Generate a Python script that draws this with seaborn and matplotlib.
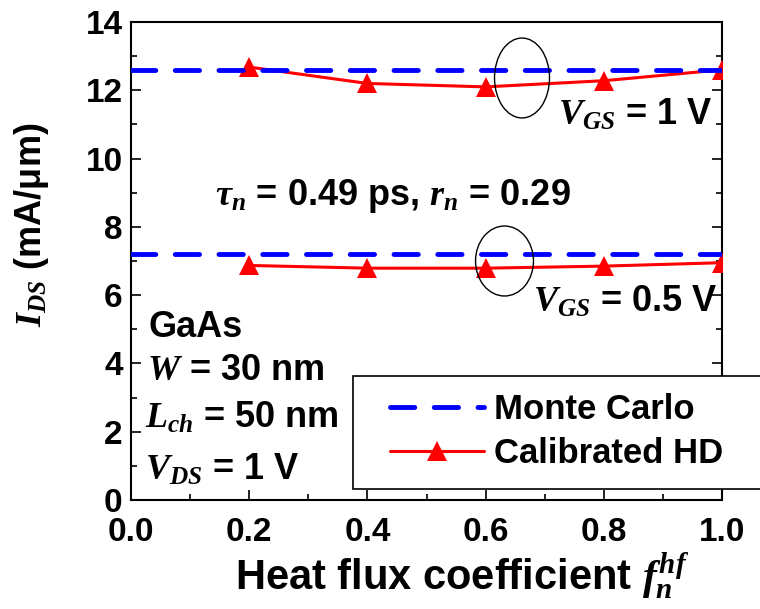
import matplotlib
matplotlib.use("Agg")
import matplotlib.pyplot as plt
from matplotlib.patches import Ellipse, Rectangle
from matplotlib.lines import Line2D
import seaborn as sns
import pandas as pd

# Heat flux coefficient sweep
hf_coeff = [0.2, 0.4, 0.6, 0.8, 1.0]
# Calibrated hydrodynamic drain current (mA/um)
hd_vgs_1 = [12.68, 12.2, 12.1, 12.28, 12.6]
hd_vgs_05 = [6.87, 6.79, 6.79, 6.85, 6.95]
# Monte Carlo reference currents (mA/um)
mc_vgs_1 = 12.6
mc_vgs_05 = 7.2

x_ticks = [0.0, 0.2, 0.4, 0.6, 0.8, 1.0]
y_ticks = [0, 2, 4, 6, 8, 10, 12, 14]

sns.set_theme(style="ticks")
plt.rcParams.update({
    "font.family": ["Liberation Sans", "DejaVu Sans"],
    "font.weight": "bold",
    "mathtext.fontset": "custom",
    "mathtext.it": "Liberation Serif:italic:bold",
    "mathtext.rm": "Liberation Sans:bold",
    "mathtext.bf": "Liberation Sans:bold",
    "mathtext.default": "it",
    "axes.linewidth": 1.5,
    "axes.edgecolor": "black",
    "axes.labelcolor": "black",
    "xtick.color": "black",
    "ytick.color": "black",
    "text.color": "black",
})

fig = plt.figure(figsize=(7.6, 6.09), dpi=100)
ax = fig.add_axes([131 / 760, 1 - 500 / 609, (722 - 131) / 760, (500 - 22) / 609])

df = pd.DataFrame({
    "coef": hf_coeff * 2,
    "ids": hd_vgs_1 + hd_vgs_05,
    "bias": ["1"] * 5 + ["0.5"] * 5,
})

red = "#ff0000"
blue = "#0000ff"

for bias in ["1", "0.5"]:
    sub = df[df["bias"] == bias]
    sns.lineplot(data=sub, x="coef", y="ids", ax=ax, color=red, lw=2.2,
                 marker="^", markersize=15, markeredgewidth=0,
                 markeredgecolor=red, markerfacecolor=red, zorder=3,
                 legend=False)

for val in [mc_vgs_1, mc_vgs_05]:
    ax.axhline(val, color=blue, lw=3.5, dashes=(5, 4), dash_capstyle="round",
               zorder=4)

ax.set_xlim(0, 1.0)
ax.set_ylim(0, 14)
ax.set_xticks(x_ticks)
ax.set_xticklabels([f"{v:.1f}" for v in x_ticks])
ax.set_yticks(y_ticks)
ax.set_xticks([0.1, 0.3, 0.5, 0.7, 0.9], minor=True)
ax.set_yticks([1, 3, 5, 7, 9, 11, 13], minor=True)
ax.tick_params(axis="both", which="both", direction="in", right=True, top=False,
               width=1.2, colors="black")
ax.tick_params(axis="both", which="major", length=7, labelsize=24)
ax.tick_params(axis="both", which="minor", length=4)
ax.tick_params(axis="x", which="major", pad=12)
ax.tick_params(axis="y", which="major", pad=6)
for lab in ax.get_xticklabels() + ax.get_yticklabels():
    lab.set_fontweight("bold")

for s in ax.spines.values():
    s.set_visible(True)
    s.set_color("black")
    s.set_linewidth(1.5)

ax.set_xlabel(r"Heat flux coefficient $f_n^{hf}$", fontsize=30, fontweight="bold")
ax.set_ylabel(r"$I_{DS}$ (mA/μm)", fontsize=26, fontweight="bold")
ax.xaxis.set_label_coords(0.56, -0.188)
ax.xaxis.label.set_va("baseline")
ax.yaxis.set_label_coords(-0.169, 0.575)
ax.yaxis.label.set_va("center")

# Ellipses marking the two bias groups
ax.add_patch(Ellipse((0.6616, 12.36), 0.093, 2.34, fill=False, ec="black",
                     lw=1.0, zorder=5))
ax.add_patch(Ellipse((0.632, 7.0), 0.098, 2.05, fill=False, ec="black",
                     lw=1.0, zorder=5))

fs = 26
ax.text(0.7225, 10.99, r"$V_{GS}$ = 1 V", fontsize=fs, fontweight="bold")
ax.text(0.681, 5.5, r"$V_{GS}$ = 0.5 V", fontsize=fs, fontweight="bold")
ax.text(0.142, 8.64, r"$\tau_n$ = 0.49 ps, $r_n$ = 0.29", fontsize=fs,
        fontweight="bold")
ax.text(0.029, 4.77, "GaAs", fontsize=fs, fontweight="bold")
ax.text(0.027, 3.5, r"$W$ = 30 nm", fontsize=fs, fontweight="bold")
ax.text(0.024, 2.1, r"$L_{ch}$ = 50 nm", fontsize=fs, fontweight="bold")
ax.text(0.024, 0.6, r"$V_{DS}$ = 1 V", fontsize=fs, fontweight="bold")

# Legend: square frame running off the right edge, entries placed inside it
frame = Rectangle((353 / 760, 1 - 489 / 609), 0.6, (489 - 376) / 609,
                  transform=fig.transFigure, facecolor="white",
                  edgecolor="black", lw=1.2, zorder=9)
fig.add_artist(frame)
h_mc = Line2D([], [], color=blue, lw=3.5, dashes=(5, 4), dash_capstyle="round")
h_hd = Line2D([], [], color=red, lw=2.2, marker="^", markersize=15,
              markeredgewidth=0)
lfs = 25
leg = fig.legend([h_mc, h_hd], ["Monte Carlo", "Calibrated HD"],
                 loc="upper left",
                 bbox_to_anchor=(390 / 760, 1 - 393 / 609),
                 bbox_transform=fig.transFigure,
                 borderaxespad=0, borderpad=0, frameon=False,
                 handlelength=2.7, handletextpad=0.3, labelspacing=0.32,
                 numpoints=1, prop={"weight": "bold", "size": lfs})
leg.set_zorder(10)

fig.savefig("out.png", dpi=100)
